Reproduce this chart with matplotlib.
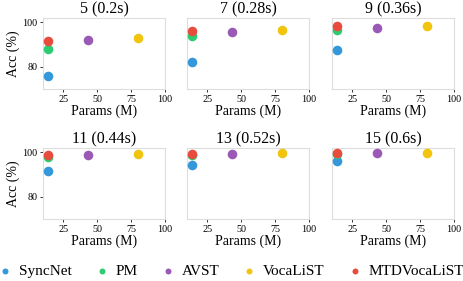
import matplotlib.pyplot as plt

plt.rcParams['font.family'] = ['Liberation Serif', 'DejaVu Serif']

# frames (seconds) per panel
titles = ['5 (0.2s)', '7 (0.28s)', '9 (0.36s)', '11 (0.44s)', '13 (0.52s)', '15 (0.6s)']
models = ['SyncNet', 'PM', 'AVST', 'VocaLiST', 'MTDVocaLiST']
params = [13.6, 13.6, 42.9, 80.1, 13.6]
colors = ['#3498db', '#2ecc71', '#9b59b6', '#f1c40f', '#e74c3c']

syncnet = [75.8, 82.3, 87.6, 91.8, 94.5, 96.1]
pm = [88.1, 93.8, 96.4, 97.9, 98.7, 99.1]
avst = [92.0, 95.5, 97.7, 98.7, 99.2, 99.6]
vocalist = [92.8, 96.7, 98.4, 99.3, 99.6, 99.8]
mtdvocalist = [91.5, 96.0, 98.2, 98.9, 99.4, 99.6]
acc = [syncnet, pm, avst, vocalist, mtdvocalist]

fig = plt.figure(figsize=(4.63, 2.81), dpi=100)

lefts = [43, 187, 332]
bottoms = [89, 219]
W, H = 122, 71

for p in range(6):
    r, c = divmod(p, 3)
    ax = fig.add_axes([lefts[c] / 463, (281 - bottoms[r]) / 281, W / 463, H / 281])
    for m in range(len(models)):
        ax.scatter(params[m], acc[m][p], s=48, color=colors[m], linewidths=0,
                   label=models[m], zorder=3)
    ax.set_xlim(10, 100)
    ax.set_ylim(70, 102)
    ax.set_xticks([25, 50, 75, 100])
    ax.set_yticks([80, 100])
    for s in ax.spines.values():
        s.set_color('#dddddd')
        s.set_linewidth(0.8)
    ax.tick_params(length=2, width=0.7, color='#333333', labelsize=7.3, pad=2)
    ax.set_xlabel('Params (M)', fontsize=10, labelpad=1)
    ax.set_title(titles[p], fontsize=11.5, pad=3)
    if c == 0:
        ax.set_ylabel('Acc (%)', fontsize=10, labelpad=2)
    else:
        ax.tick_params(axis='y', left=False, labelleft=False)
    if p == 0:
        handles, labels = ax.get_legend_handles_labels()

fig.legend(handles, labels, loc='lower center', ncol=5, frameon=False,
           fontsize=11, markerscale=0.62, handlelength=0.8, handletextpad=0.52,
           columnspacing=1.55, borderaxespad=0, borderpad=0,
           bbox_to_anchor=(0.5, 0.01))

fig.savefig('out.png', dpi=100)
